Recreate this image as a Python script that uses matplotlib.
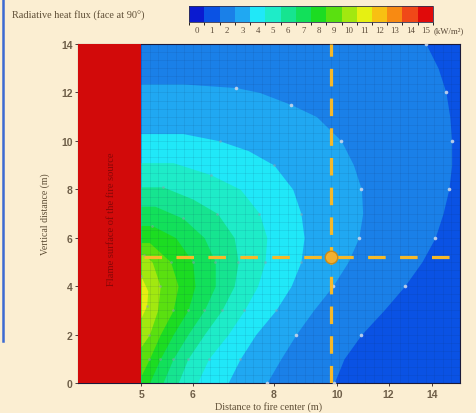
import numpy as np
import matplotlib
matplotlib.use("Agg")
import matplotlib.pyplot as plt
from matplotlib.colors import ListedColormap, BoundaryNorm
from matplotlib.ticker import NullLocator
import matplotlib.colorbar as mcb
from matplotlib.lines import Line2D

# ---------------- data ----------------
flux_levels = list(range(16))            # kW/m2, colour bands
flux_colors = ["#0a1ad0", "#0a52e4", "#1a80e8", "#20a8f2", "#20e8f8", "#1eecc8",
               "#16e490", "#12e05a", "#1cdc22", "#5ae010", "#a2e810", "#e6f012",
               "#f8c012", "#f88a12", "#f04818", "#e00a0a"]

# iso-flux lines: x (m) where flux equals the level, at height y (m)
iso2_y = [0, 1, 2, 3, 4, 5, 6, 7, 8, 9, 10, 11, 12, 13, 14]
iso2_x = [9.9, 10.25, 10.9, 11.8, 12.7, 13.5, 14.15, 14.55, 14.85, 15.0, 15.0, 14.9, 14.7, 14.3, 13.7]

iso3_y = [0, 1, 2, 3, 4, 5, 6, 7, 8, 9, 10, 11, 11.5, 12, 12.2, 12.35]
iso3_x = [7.8, 8.2, 8.65, 9.2, 9.85, 10.4, 10.8, 10.95, 10.9, 10.6, 10.15, 9.3, 8.5, 7.6, 7.0, 5.8]

iso4_y = [0, 1, 2, 3, 4, 5, 6, 7, 8, 9, 9.6, 10, 10.3]
iso4_x = [6.8, 7.1, 7.5, 8.05, 8.5, 8.8, 8.9, 8.8, 8.55, 8.0, 7.3, 6.6, 5.8]

iso5_y = [0, 1, 2, 3, 4, 5, 6, 7, 8, 8.6, 9.1]
iso5_x = [6.1, 6.35, 6.8, 7.2, 7.55, 7.75, 7.8, 7.6, 7.1, 6.4, 5.6]

iso6_y = [0, 1, 2, 3, 4, 5, 6, 7, 7.6, 8.1]
iso6_x = [5.7, 5.9, 6.25, 6.65, 6.95, 7.05, 6.95, 6.55, 6.0, 5.4]

iso7_y = [0, 1, 2, 3, 4, 5, 6, 6.8, 7.3]
iso7_x = [5.4, 5.6, 5.9, 6.25, 6.5, 6.5, 6.25, 5.8, 5.25]

iso8_y = [0, 1, 2, 3, 4, 5, 6, 6.5]
iso8_x = [5.15, 5.35, 5.6, 5.9, 6.05, 6.0, 5.65, 5.2]

iso9_y = [0.3, 1, 2, 3, 4, 5, 5.8]
iso9_x = [5.0, 5.15, 5.35, 5.6, 5.7, 5.55, 5.15]

iso10_y = [1.5, 2, 3, 4, 5, 5.3]
iso10_x = [5.0, 5.15, 5.3, 5.35, 5.2, 5.05]

iso11_y = [2.7, 3.2, 3.8, 4.4]
iso11_x = [5.0, 5.1, 5.12, 5.0]

x_ticks = [5, 6, 8, 10, 12, 14]
y_ticks = [0, 2, 4, 6, 8, 10, 12, 14]
fire_x = [4, 5]
probe_x = 9.8
probe_y = 5.2

isolines = [(2, iso2_y, iso2_x), (3, iso3_y, iso3_x), (4, iso4_y, iso4_x),
            (5, iso5_y, iso5_x), (6, iso6_y, iso6_x), (7, iso7_y, iso7_x),
            (8, iso8_y, iso8_x), (9, iso9_y, iso9_x), (10, iso10_y, iso10_x),
            (11, iso11_y, iso11_x)]

# ---------------- figure ----------------
BG = "#fbeed2"
TXT = "#5e4e36"
fig = plt.figure(figsize=(4.76, 4.14), dpi=100, facecolor=BG)
W, H = 476, 414

def fx(px):
    return px / W

def fy(py):
    return 1 - py / H

ax = fig.add_axes([fx(78), fy(384), fx(460) - fx(78), fy(45) - fy(384)])
ax.set_xscale("log")
ax.set_xlim(4.0, 15.45)
ax.set_ylim(0, 14)
ax.set_facecolor(flux_colors[1])

for lev, ys, xs in isolines:
    ax.fill_betweenx(ys, fire_x[1], xs, color=flux_colors[lev], lw=0, zorder=1)

# faint mesh
for xv in np.geomspace(5, 15.45, 38):
    ax.axvline(xv, color="#10305a", lw=0.5, alpha=0.13, zorder=2)
for yv in np.arange(0, 14, 1 / 3):
    ax.axhline(yv, color="#10305a", lw=0.5, alpha=0.13, zorder=2)

# dots on iso-lines
for lev, ys, xs in isolines:
    if lev <= 3:
        ax.plot(xs[::2], ys[::2], "o", ms=2.6, color="#c8d6ea", mec="none", alpha=0.9, zorder=3)
    else:
        ax.plot(xs[1::2], ys[1::2], "o", ms=2.0, color="#90a0b0", mec="none", alpha=0.5, zorder=3)

# fire surface
ax.axvspan(fire_x[0], fire_x[1], color="#d20a0a", lw=0, zorder=4)
ax.text(4.5, 6.8, "Flame surface of the fire source", rotation=90, ha="center", va="center",
        fontsize=7.6, color="#7a0606", family="Liberation Serif", zorder=5, alpha=0.85)

# probe cross-hair
OR = "#f7b928"
ax.plot([probe_x, probe_x], [0, 14], color=OR, lw=2.3, ls=(0, (5.5, 3.8)), zorder=6)
ax.plot([5.05, 15.2], [probe_y, probe_y], color=OR, lw=2.3, ls=(0, (5.5, 4.5)), zorder=6)
ax.plot([probe_x], [probe_y], "o", ms=9, color="#f2b030", mec="#c88a18", mew=1.0, zorder=7)

ax.set_xticks(x_ticks)
ax.set_xticklabels([str(v) for v in x_ticks])
ax.xaxis.set_minor_locator(NullLocator())
ax.set_yticks(y_ticks)
ax.set_yticklabels([str(v) for v in y_ticks])
ax.tick_params(axis="both", length=2, width=0.6, color="#302020", labelsize=7.5,
               labelcolor="#6e5e48", pad=2)
for lab in ax.get_xticklabels() + ax.get_yticklabels():
    lab.set_family("Liberation Sans")
    lab.set_fontweight("bold")
for sp in ax.spines.values():
    sp.set_color("#1a1a3a")
    sp.set_linewidth(0.8)

ax.set_xlabel("Distance to fire center (m)", fontsize=7.3, color=TXT,
              family="Liberation Serif", labelpad=2)
ax.set_ylabel("Vertical distance (m)", fontsize=7.0, color=TXT,
              family="Liberation Serif", labelpad=8)

# ---------------- colour bar ----------------
cax = fig.add_axes([fx(189), fy(23), fx(433) - fx(189), fy(7) - fy(23)])
cmap = ListedColormap(flux_colors)
norm = BoundaryNorm(np.arange(-0.5, 16.5, 1), cmap.N)
cb = mcb.ColorbarBase(cax, cmap=cmap, norm=norm, orientation="horizontal", ticks=flux_levels)
cb.outline.set_edgecolor("#303050")
cb.outline.set_linewidth(0.6)
cax.tick_params(length=0, labelsize=6.3, labelcolor="#5a4a38", pad=3)
cax.set_xticklabels([str(v) for v in flux_levels])
for lab in cax.get_xticklabels():
    lab.set_family("Liberation Serif")

fig.text(fx(12), fy(16), "Radiative heat flux (face at 90\u00b0)", fontsize=7.4, color=TXT,
         family="Liberation Serif", va="center", ha="left")
fig.text(fx(434), fy(31), "(kW/m\u00b2)", fontsize=6.3, color="#5a4a38",
         family="Liberation Serif", va="center", ha="left")

# slide frame line at left
fig.add_artist(Line2D([fx(2.5), fx(2.5)], [fy(0), fy(342)], color="#3c6ad2", lw=1.8))

fig.savefig("out.png", dpi=100, facecolor=BG)
